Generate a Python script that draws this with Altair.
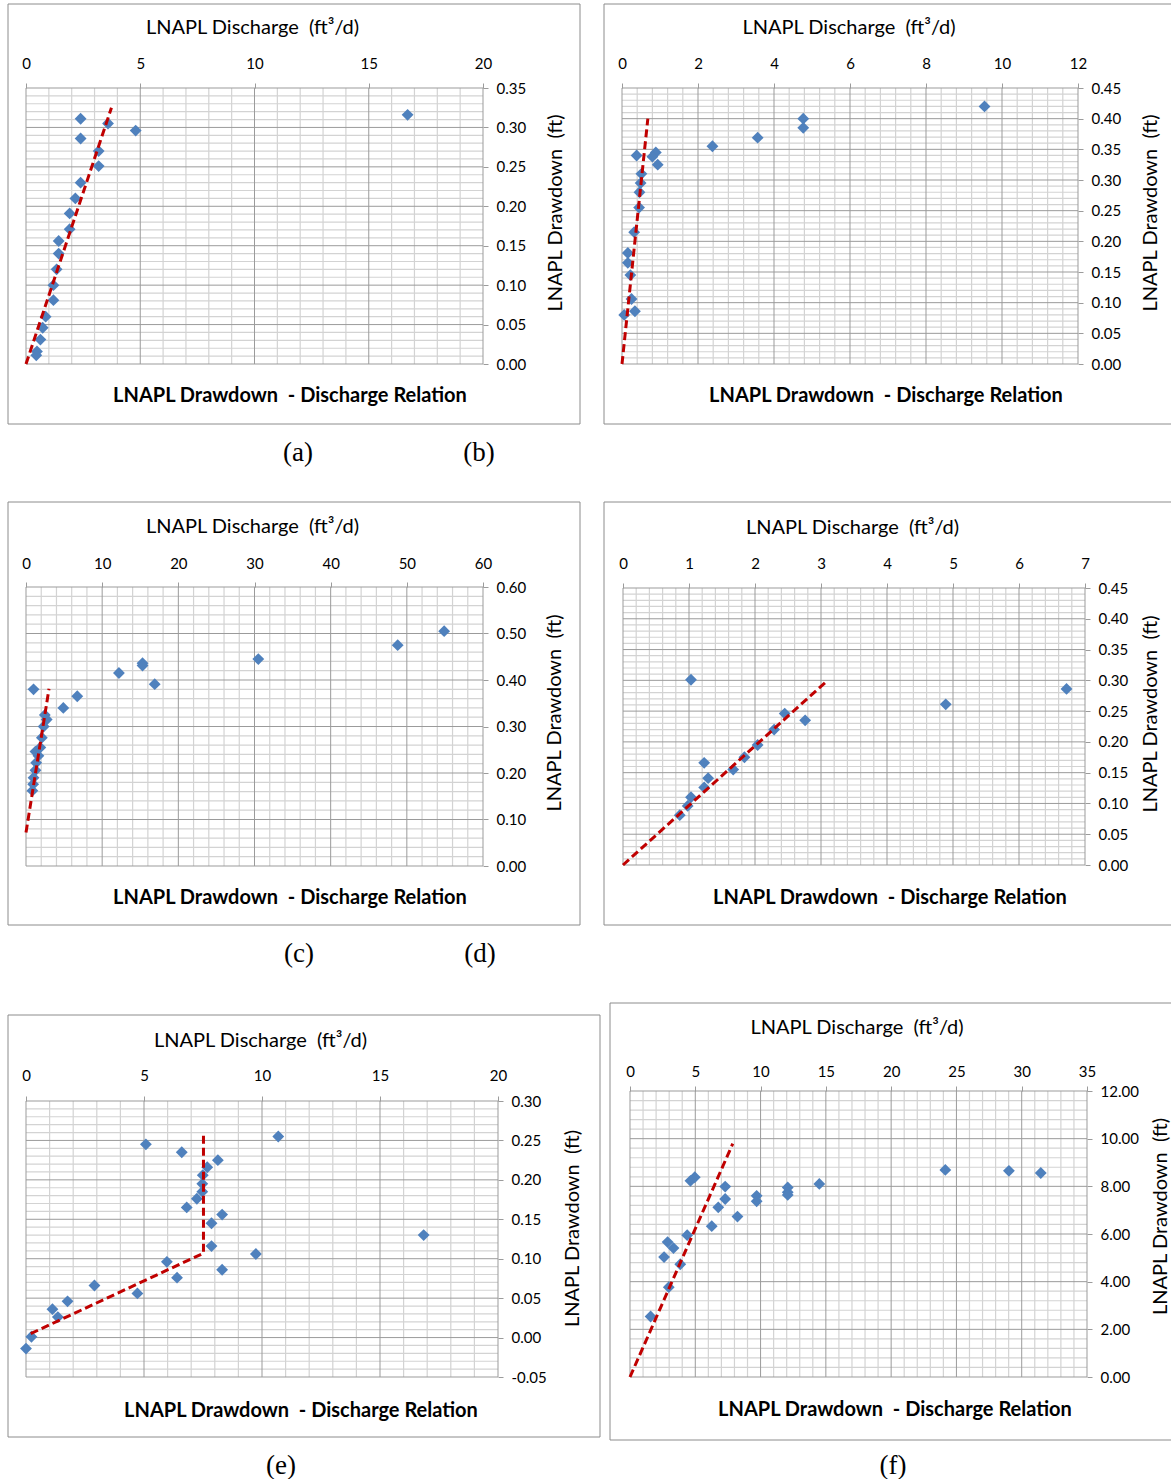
import altair as alt
import pandas as pd
import numpy as np

FONT = "Lato"
SERIF = "Liberation Serif"
BLUE = "#4F81BD"
RED = "#C00000"
MAJOR = "#9b9b9b"
MINOR = "#d3d3d3"
FRAME = "#8c8c8c"
TITLE_SIZE = 20
BOLD_SIZE = 20
LABEL_SIZE = 15
CAP_SIZE = 27

X_TITLE = "LNAPL Discharge\u00a0 (ft\u00b3/d)"
Y_TITLE = "LNAPL Drawdown\u00a0 (ft)"
B_TITLE = "LNAPL Drawdown\u00a0 - Discharge Relation"

# ---------------- data ----------------
# (a)
a_q = [2.39, 3.59, 4.80, 16.70, 2.39, 3.18, 3.18, 2.39, 2.16, 1.91, 1.91, 1.43, 1.43, 1.34, 1.20, 1.20, 0.86, 0.73, 0.63, 0.48, 0.45]
a_s = [0.311, 0.305, 0.296, 0.316, 0.286, 0.270, 0.251, 0.230, 0.210, 0.191, 0.171, 0.156, 0.140, 0.120, 0.100, 0.081, 0.060, 0.046, 0.031, 0.016, 0.011]
a_tq = [0.0, 3.74]
a_ts = [0.0, 0.325]
# (b)
b_q = [9.54, 4.77, 4.77, 3.57, 2.38, 0.385, 0.89, 0.80, 0.94, 0.51, 0.49, 0.46, 0.45, 0.32, 0.154, 0.154, 0.22, 0.25, 0.058, 0.34]
b_s = [0.420, 0.400, 0.385, 0.369, 0.355, 0.340, 0.345, 0.338, 0.325, 0.310, 0.295, 0.280, 0.255, 0.215, 0.181, 0.165, 0.145, 0.106, 0.080, 0.086]
b_tq = [0.0, 0.68]
b_ts = [0.0, 0.400]
# (c)
c_q = [54.9, 48.8, 30.5, 15.3, 15.3, 12.2, 16.9, 0.99, 6.73, 4.90, 2.47, 2.72, 2.32, 2.08, 1.88, 1.24, 1.63, 1.34, 1.24, 0.99, 0.94, 0.84]
c_s = [0.505, 0.475, 0.445, 0.436, 0.431, 0.415, 0.391, 0.380, 0.365, 0.340, 0.325, 0.315, 0.300, 0.276, 0.255, 0.246, 0.237, 0.222, 0.206, 0.190, 0.176, 0.162]
c_tq = [0.0, 3.02]
c_ts = [0.072, 0.381]
# (d)
d_q = [1.03, 6.72, 4.89, 2.45, 2.76, 2.29, 2.04, 1.84, 1.67, 1.23, 1.29, 1.23, 1.03, 0.98, 0.86]
d_s = [0.301, 0.286, 0.261, 0.246, 0.235, 0.220, 0.195, 0.175, 0.155, 0.166, 0.141, 0.126, 0.110, 0.096, 0.081]
d_tq = [0.0, 3.08]
d_ts = [0.0, 0.298]
# (e)
e_q = [10.69, 5.08, 6.60, 8.13, 7.68, 7.49, 7.47, 7.47, 7.24, 6.81, 8.31, 7.86, 16.85, 7.86, 9.74, 5.97, 8.31, 6.40, 2.90, 4.72, 1.76, 1.12, 1.35, 0.23, 0.0]
e_s = [0.255, 0.245, 0.235, 0.225, 0.216, 0.206, 0.195, 0.185, 0.176, 0.165, 0.156, 0.145, 0.130, 0.116, 0.106, 0.096, 0.086, 0.076, 0.066, 0.056, 0.046, 0.036, 0.026, 0.001, -0.014]
e_tq = [0.2, 7.52, 7.52]
e_ts = [0.005, 0.107, 0.257]
# (f)
f_q = [24.15, 29.02, 31.46, 14.50, 12.08, 12.08, 12.08, 9.70, 9.70, 7.29, 7.29, 6.76, 8.23, 6.26, 4.96, 4.63, 4.38, 2.88, 3.33, 2.61, 3.85, 2.97, 1.58]
f_s = [8.69, 8.65, 8.56, 8.10, 7.95, 7.75, 7.64, 7.60, 7.37, 7.99, 7.47, 7.12, 6.73, 6.33, 8.38, 8.23, 5.95, 5.66, 5.41, 5.03, 4.73, 3.77, 2.54]
f_tq = [0.0, 7.87]
f_ts = [0.0, 9.79]

# axis ticks
a_xt = [0, 5, 10, 15, 20]
a_yt = [0.00, 0.05, 0.10, 0.15, 0.20, 0.25, 0.30, 0.35]
b_xt = [0, 2, 4, 6, 8, 10, 12]
b_yt = [0.00, 0.05, 0.10, 0.15, 0.20, 0.25, 0.30, 0.35, 0.40, 0.45]
c_xt = [0, 10, 20, 30, 40, 50, 60]
c_yt = [0.0, 0.1, 0.2, 0.3, 0.4, 0.5, 0.6]
d_xt = [0, 1, 2, 3, 4, 5, 6, 7]
d_yt = [0.00, 0.05, 0.10, 0.15, 0.20, 0.25, 0.30, 0.35, 0.40, 0.45]
e_xt = [0, 5, 10, 15, 20]
e_yt = [-0.05, 0.00, 0.05, 0.10, 0.15, 0.20, 0.25, 0.30]
f_xt = [0, 5, 10, 15, 20, 25, 30, 35]
f_yt = [0, 2, 4, 6, 8, 10, 12]

panels = [
    dict(q=a_q, s=a_s, tq=a_tq, ts=a_ts, xt=a_xt, yt=a_yt, xminor=1, yminor=0.01,
         w=457, h=276, cell=(-19, 577, -85, 413), frame=(-18, 554, -84, 336, True),
         xlp=15, xtx=226, xty=-55, ytx=78, yty=124.5, bt=(264, 314),
         caps=[("(a)", 272, 373), ("(b)", 453, 373)]),
    dict(q=b_q, s=b_s, tq=b_tq, ts=b_ts, xt=b_xt, yt=b_yt, xminor=0.4, yminor=0.01,
         w=456, h=276, cell=(-19, 549, -85, 413), frame=(-18, 549, -84, 336, False),
         xlp=15, xtx=226.5, xty=-55, ytx=78, yty=124.5, bt=(264, 314), caps=[]),
    dict(q=c_q, s=c_s, tq=c_tq, ts=c_ts, xt=c_xt, yt=c_yt, xminor=2, yminor=0.02,
         w=457, h=279, cell=(-19, 577, -86, 412), frame=(-18, 554, -85, 338, True),
         xlp=14, xtx=226, xty=-55, ytx=77, yty=125.5, bt=(264, 317),
         caps=[("(c)", 273, 375), ("(d)", 454, 375)]),
    dict(q=d_q, s=d_s, tq=d_tq, ts=d_ts, xt=d_xt, yt=d_yt, xminor=0.2, yminor=0.01,
         w=462, h=277, cell=(-20, 548, -87, 411), frame=(-19, 548, -86, 337, False),
         xlp=15, xtx=229, xty=-55, ytx=71, yty=125.5, bt=(267, 316), caps=[]),
    dict(q=e_q, s=e_s, tq=e_tq, ts=e_ts, xt=e_xt, yt=e_yt, xminor=1, yminor=0.01,
         w=472, h=276, cell=(-19, 577, -102, 378), frame=(-18, 574, -86, 336, True),
         xlp=16, xtx=234, xty=-55, ytx=80, yty=127, bt=(275, 316),
         caps=[("(e)", 255, 373)]),
    dict(q=f_q, s=f_s, tq=f_tq, ts=f_ts, xt=f_xt, yt=f_yt, xminor=1, yminor=0.4,
         w=457, h=286, cell=(-27, 541, -91, 388), frame=(-20, 541, -88, 349, False),
         xlp=10, xtx=226.5, xty=-58, ytx=79, yty=125, bt=(265, 325),
         caps=[("(f)", 263, 383)]),
]

ONE = pd.DataFrame({"k": [0]})


def minor_positions(ticks, step):
    lo, hi = min(ticks), max(ticks)
    n = int(round((hi - lo) / step))
    vals = [round(lo + i * step, 6) for i in range(n + 1)]
    return [v for v in vals if all(abs(v - t) > step * 0.1 for t in ticks)]


def panel(p):
    xs = alt.Scale(domain=[min(p["xt"]), max(p["xt"])], nice=False, zero=False)
    ys = alt.Scale(domain=[min(p["yt"]), max(p["yt"])], nice=False, zero=False)
    xaxis = alt.Axis(orient="top", values=p["xt"], format="d", grid=False, domain=False,
                     ticks=True, tickSize=5, tickColor=MAJOR, labelFlush=False, labelOverlap=False,
                     labelPadding=p["xlp"], labelBaseline="alphabetic", labelFont=FONT,
                     labelFontSize=LABEL_SIZE, labelColor="black",
                     title=X_TITLE, titleFont=FONT, titleFontSize=TITLE_SIZE, titleFontWeight="normal",
                     titleColor="black", titleX=p["xtx"], titleY=p["xty"],
                     titleBaseline="alphabetic", titleAlign="center")
    yaxis = alt.Axis(orient="right", values=p["yt"], grid=False, domain=False,
                     labelExpr="replace(format(datum.value, '.2f'), '\u2212', '-')",
                     ticks=True, tickSize=5, tickColor=MAJOR, labelFlush=False, labelOverlap=False,
                     labelPadding=8, labelFont=FONT, labelFontSize=LABEL_SIZE, labelColor="black",
                     title=Y_TITLE, titleFont=FONT, titleFontSize=TITLE_SIZE, titleFontWeight="normal",
                     titleColor="black", titleAngle=270, titleX=p["ytx"], titleY=p["yty"],
                     titleBaseline="alphabetic", titleAlign="center")

    def X(field):
        return alt.X(field, scale=xs, axis=xaxis)

    def Y(field):
        return alt.Y(field, scale=ys, axis=yaxis)

    layers = []
    cx0, cx1, cy0, cy1 = p["cell"]
    layers.append(alt.Chart(ONE).mark_rect(opacity=0).encode(
        x=alt.value(cx0), x2=alt.value(cx1), y=alt.value(cy0), y2=alt.value(cy1)))
    fx0, fx1, fy0, fy1, closed = p["frame"]
    if closed:
        layers.append(alt.Chart(ONE).mark_rect(fillOpacity=0, stroke=FRAME, strokeWidth=1).encode(
            x=alt.value(fx0), x2=alt.value(fx1), y=alt.value(fy0), y2=alt.value(fy1)))
    else:
        for yy in (fy0, fy1):
            layers.append(alt.Chart(ONE).mark_rule(color=FRAME, strokeWidth=1).encode(
                x=alt.value(fx0), x2=alt.value(fx1), y=alt.value(yy)))
        layers.append(alt.Chart(ONE).mark_rule(color=FRAME, strokeWidth=1).encode(
            x=alt.value(fx0), y=alt.value(fy0), y2=alt.value(fy1)))

    # minor grid
    layers.append(alt.Chart(pd.DataFrame({"v": minor_positions(p["xt"], p["xminor"])})).mark_rule(
        color=MINOR, strokeWidth=1.2).encode(x=X("v:Q")))
    layers.append(alt.Chart(pd.DataFrame({"v": minor_positions(p["yt"], p["yminor"])})).mark_rule(
        color=MINOR, strokeWidth=1.2).encode(y=Y("v:Q")))
    # major grid
    layers.append(alt.Chart(pd.DataFrame({"v": p["xt"]})).mark_rule(
        color=MAJOR, strokeWidth=1).encode(x=X("v:Q")))
    layers.append(alt.Chart(pd.DataFrame({"v": p["yt"]})).mark_rule(
        color=MAJOR, strokeWidth=1).encode(y=Y("v:Q")))

    pts = pd.DataFrame({"q": p["q"], "s": p["s"]})
    layers.append(alt.Chart(pts).mark_point(shape="diamond", filled=True, size=140, color=BLUE, opacity=1).encode(
        x=X("q:Q"), y=Y("s:Q")))

    tr = pd.DataFrame({"q": p["tq"], "s": p["ts"], "i": list(range(len(p["tq"])))})
    layers.append(alt.Chart(tr).mark_line(color=RED, strokeWidth=3, strokeDash=[8, 4]).encode(
        x=X("q:Q"), y=Y("s:Q"), order="i:Q"))

    bx, by = p["bt"]
    layers.append(alt.Chart(ONE).mark_text(font=FONT, fontSize=BOLD_SIZE, fontWeight="bold", color="black",
                                           align="center", baseline="alphabetic").encode(
        x=alt.value(bx), y=alt.value(by), text=alt.value(B_TITLE)))
    for txt, cx, cy in p["caps"]:
        layers.append(alt.Chart(ONE).mark_text(font=SERIF, fontSize=CAP_SIZE, color="black",
                                               align="center", baseline="alphabetic").encode(
            x=alt.value(cx), y=alt.value(cy), text=alt.value(txt)))
    return alt.layer(*layers).properties(width=p["w"], height=p["h"])


charts = [panel(p) for p in panels]
chart = alt.concat(*charts, columns=2, spacing=0, align="none", bounds="full").properties(
    padding={"left": 7, "top": 3, "right": 0, "bottom": 0}, background="white"
).configure_view(stroke=None)

chart.save("out.html", embed_options={"renderer": "svg", "actions": False})
